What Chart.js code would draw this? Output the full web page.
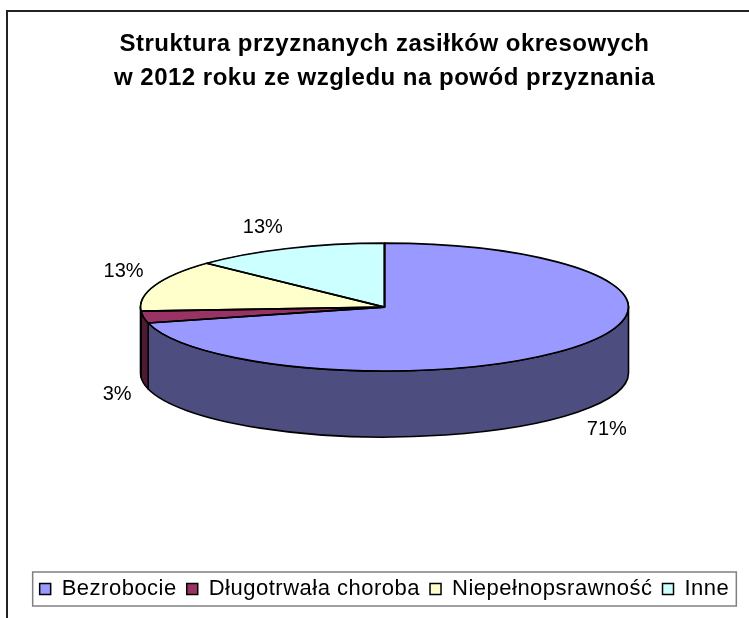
<!DOCTYPE html>
<html>
<head>
<meta charset="utf-8">
<script src="https://cdn.jsdelivr.net/npm/chart.js@4"></script>
<style>
  html, body { margin: 0; padding: 0; background: #fff; overflow: hidden; }
  #wrap { position: relative; width: 749px; height: 618px; overflow: hidden; }
  #frame { position: absolute; left: 6px; top: 10px; width: 800px; height: 700px; border: 2px solid #222; box-sizing: border-box; }
  canvas { position: absolute; left: 0; top: 0; }
</style>
</head>
<body>
<div id="wrap">
  <div id="frame"></div>
  <canvas id="chart" width="749" height="618"></canvas>
</div>
<script>
// Data
const categories = ["Bezrobocie", "Długotrwała choroba", "Niepełnopsrawność", "Inne"];
const shares = [71, 3, 13, 13];
const titleLines = ["Struktura przyznanych zasiłków okresowych", "w 2012 roku ze wzgledu na powód przyznania"];

const topColors = ["#9999FF", "#993366", "#FFFFCC", "#CCFFFF"];
const sideColors = ["#4D4D80", "#4D1A33", "#808066", "#668080"];
const FONT = "'Liberation Sans', Arial, sans-serif";

// 3D look: squash of the top face and height of the side wall
const TILT = 0.262;
const DEPTH = 66;
// the old Excel text is set a bit loose
const SPACING = "0.5px";

function arcGeom(arc) {
  const p = arc.getProps(["x", "y", "startAngle", "endAngle", "outerRadius"], true);
  p.cy = p.y - DEPTH / 2; // center the whole 3D pie in the chart area
  return p;
}

const pie3d = {
  id: "pie3d",
  beforeLayout(chart) {
    chart.ctx.letterSpacing = SPACING;
  },
  beforeDraw(chart) {
    chart.ctx.letterSpacing = SPACING;
  },
  beforeDatasetsDraw(chart) {
    const ctx = chart.ctx;
    const arcs = chart.getDatasetMeta(0).data;
    // side walls (only the front half is visible)
    arcs.forEach((arc, i) => {
      const g = arcGeom(arc);
      const a1 = Math.max(g.startAngle, 0);
      const a2 = Math.min(g.endAngle, Math.PI);
      if (a2 <= a1) return;
      const r = g.outerRadius;
      ctx.save();
      ctx.beginPath();
      ctx.ellipse(g.x, g.cy, r, r * TILT, 0, a1, a2);
      ctx.ellipse(g.x, g.cy + DEPTH, r, r * TILT, 0, a2, a1, true);
      ctx.closePath();
      ctx.fillStyle = sideColors[i];
      ctx.fill();
      ctx.lineWidth = 1.6;
      ctx.lineJoin = "round";
      ctx.strokeStyle = "#000";
      ctx.stroke();
      ctx.restore();
    });
    // squash the flat pie into the top face
    const g0 = arcGeom(arcs[0]);
    ctx.save();
    ctx.translate(g0.x, g0.cy);
    ctx.scale(1, TILT);
    ctx.translate(-g0.x, -g0.y);
  },
  afterDatasetsDraw(chart) {
    const ctx = chart.ctx;
    ctx.restore();
    const arcs = chart.getDatasetMeta(0).data;
    // outlines of the top face, drawn unscaled so the line width stays even
    arcs.forEach((arc) => {
      const g = arcGeom(arc);
      const r = g.outerRadius;
      ctx.save();
      ctx.beginPath();
      ctx.moveTo(g.x, g.cy);
      ctx.ellipse(g.x, g.cy, r, r * TILT, 0, g.startAngle, g.endAngle);
      ctx.closePath();
      ctx.lineWidth = 1.6;
      ctx.lineJoin = "round";
      ctx.strokeStyle = "#000";
      ctx.stroke();
      ctx.restore();
    });
    // percentage labels outside the slices
    ctx.save();
    ctx.letterSpacing = "0px";
    ctx.font = "20px " + FONT;
    ctx.fillStyle = "#000";
    ctx.textAlign = "center";
    ctx.textBaseline = "middle";
    arcs.forEach((arc, i) => {
      const g = arcGeom(arc);
      const r = g.outerRadius;
      const mid = (g.startAngle + g.endAngle) / 2;
      const c = Math.cos(mid), s = Math.sin(mid);
      const text = shares[i] + "%";
      const hw = ctx.measureText(text).width / 2;
      const hh = 10;
      const px = g.x + r * c;
      const py = g.cy + r * TILT * s + (s > 0 ? DEPTH : 0);
      ctx.fillText(text, px + Math.sign(c) * hw + c * 12, py + Math.sign(s) * hh + s * 12);
    });
    ctx.restore();
  },
  afterDraw(chart) {
    // frame around the legend
    const boxes = chart.legend.legendHitBoxes;
    if (!boxes || !boxes.length) return;
    const left = Math.min(...boxes.map(b => b.left)) - 7;
    const right = Math.max(...boxes.map(b => b.left + b.width)) + 7;
    const top = boxes[0].top - 6;
    const bottom = boxes[0].top + boxes[0].height + 6;
    const ctx = chart.ctx;
    ctx.save();
    ctx.strokeStyle = "#808080";
    ctx.lineWidth = 1.5;
    ctx.strokeRect(left, top, right - left, bottom - top);
    ctx.restore();
  }
};

new Chart(document.getElementById("chart"), {
  type: "pie",
  data: {
    labels: categories,
    datasets: [{
      data: shares,
      backgroundColor: topColors,
      borderColor: "#000",
      borderWidth: 1.5,
      radius: 244,
      clip: false
    }]
  },
  options: {
    responsive: false,
    animation: false,
    events: [],
    layout: { padding: { left: 20, top: 28, bottom: 8 } },
    plugins: {
      title: {
        display: true,
        text: titleLines,
        color: "#000",
        font: { family: FONT, size: 24, weight: "bold", lineHeight: 1.4 },
        padding: { top: 0, bottom: 17 }
      },
      legend: {
        position: "bottom",
        labels: {
          color: "#000",
          boxWidth: 11,
          boxHeight: 11,
          padding: 10,
          font: { family: FONT, size: 22 }
        }
      },
      tooltip: { enabled: false }
    }
  },
  plugins: [pie3d]
});
</script>
</body>
</html>
